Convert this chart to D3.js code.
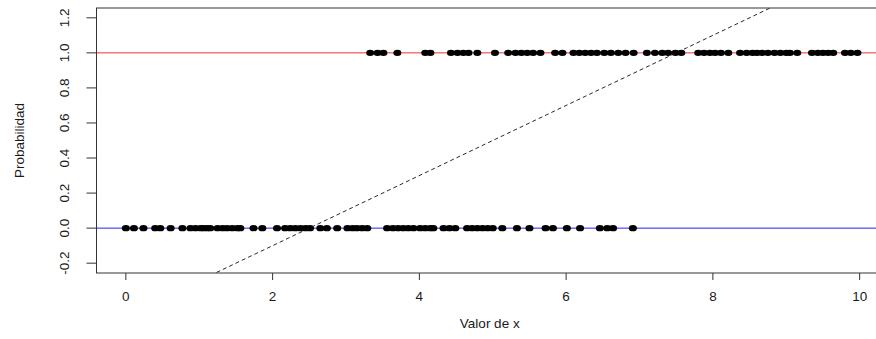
<!DOCTYPE html>
<html>
<head>
<meta charset="utf-8">
<script src="https://cdn.jsdelivr.net/npm/d3@7"></script>
<style>
    body { margin: 0; background: #fff; }
    svg text { font-family: "Liberation Sans", Arial, sans-serif; fill: #1a1a1a; }
</style>
</head>
<body>
<svg id="chart" width="876" height="339"></svg>
<script>
// observations with y = 0
const x0 = [0.0, 0.11, 0.24, 0.40, 0.47, 0.61, 0.77, 0.88, 0.95, 1.02, 1.06, 1.11, 1.15,
    1.25, 1.32, 1.38, 1.45, 1.52, 1.56, 1.74, 1.86, 2.06, 2.17, 2.24, 2.31, 2.38, 2.45, 2.51,
    2.65, 2.74, 2.88, 3.02, 3.09, 3.15, 3.22, 3.29, 3.56, 3.64, 3.71, 3.78, 3.85, 3.92,
    4.01, 4.08, 4.15, 4.19, 4.33, 4.41, 4.49, 4.65, 4.72, 4.79, 4.86, 4.93, 5.0, 5.13,
    5.33, 5.50, 5.72, 5.82, 6.01, 6.19, 6.46, 6.56, 6.64, 6.91];

// observations with y = 1
const x1 = [3.33, 3.43, 3.51, 3.70, 4.08, 4.15, 4.43, 4.52, 4.60, 4.67, 4.79, 5.03,
    5.21, 5.31, 5.39, 5.47, 5.55, 5.65, 5.85, 5.95, 6.10, 6.18, 6.26, 6.34, 6.42, 6.52,
    6.61, 6.71, 6.81, 6.92, 7.10, 7.21, 7.31, 7.39, 7.49, 7.57, 7.80, 7.88, 7.96, 8.03,
    8.11, 8.21, 8.37, 8.46, 8.54, 8.60, 8.67, 8.75, 8.84, 8.92, 9.00, 9.05, 9.15, 9.35,
    9.43, 9.50, 9.57, 9.64, 9.80, 9.88, 9.97];

const xTicks = [0, 2, 4, 6, 8, 10];
const yTicks = [-0.2, 0.0, 0.2, 0.4, 0.6, 0.8, 1.0, 1.2];

// linear probability model fit
const intercept = -0.5;
const slope = 0.2;

const margin = { top: 8, left: 96.5, right: 889, bottom: 273 };

let svg = d3.select('#chart');

let xScale = d3.scaleLinear()
    .domain([-0.4, 10.4])
    .range([margin.left, margin.right]);

let yScale = d3.scaleLinear()
    .domain([-0.256, 1.256])
    .range([margin.bottom, margin.top]);

svg.append('clipPath')
    .attr('id', 'plotClip')
    .append('rect')
    .attr('x', margin.left)
    .attr('y', margin.top)
    .attr('width', margin.right - margin.left)
    .attr('height', margin.bottom - margin.top);

let plot = svg.append('g').attr('clip-path', 'url(#plotClip)');

// reference lines at 0 and 1
plot.append('line')
    .attr('x1', xScale(-0.4)).attr('x2', xScale(10.4))
    .attr('y1', yScale(1)).attr('y2', yScale(1))
    .attr('stroke', '#f03030').attr('stroke-width', 1);

plot.append('line')
    .attr('x1', xScale(-0.4)).attr('x2', xScale(10.4))
    .attr('y1', yScale(0)).attr('y2', yScale(0))
    .attr('stroke', '#2020ff').attr('stroke-width', 1);

// points
plot.selectAll('ellipse.p0')
    .data(x0)
    .enter()
    .append('ellipse')
    .attr('class', 'p0')
    .attr('cx', d => xScale(d))
    .attr('cy', yScale(0))
    .attr('rx', 4)
    .attr('ry', 3.2)
    .attr('fill', '#000');

plot.selectAll('ellipse.p1')
    .data(x1)
    .enter()
    .append('ellipse')
    .attr('class', 'p1')
    .attr('cx', d => xScale(d))
    .attr('cy', yScale(1))
    .attr('rx', 4)
    .attr('ry', 3.2)
    .attr('fill', '#000');

// fitted line
plot.append('line')
    .attr('x1', xScale(-0.4)).attr('y1', yScale(intercept + slope * -0.4))
    .attr('x2', xScale(10.4)).attr('y2', yScale(intercept + slope * 10.4))
    .attr('stroke', '#111')
    .attr('stroke-width', 0.9)
    .attr('stroke-dasharray', '4,3');

// box
svg.append('rect')
    .attr('x', margin.left)
    .attr('y', margin.top)
    .attr('width', margin.right - margin.left)
    .attr('height', margin.bottom - margin.top)
    .attr('fill', 'none')
    .attr('stroke', '#333');

// x axis
let xAxis = svg.append('g');
xAxis.selectAll('line')
    .data(xTicks)
    .enter()
    .append('line')
    .attr('x1', d => xScale(d)).attr('x2', d => xScale(d))
    .attr('y1', margin.bottom).attr('y2', margin.bottom + 7)
    .attr('stroke', '#333');
xAxis.selectAll('text')
    .data(xTicks)
    .enter()
    .append('text')
    .attr('x', d => xScale(d))
    .attr('y', 301)
    .attr('text-anchor', 'middle')
    .attr('font-size', 13.5)
    .text(d => d);

// y axis
let yAxis = svg.append('g');
yAxis.selectAll('line')
    .data(yTicks)
    .enter()
    .append('line')
    .attr('x1', margin.left - 10).attr('x2', margin.left)
    .attr('y1', d => yScale(d)).attr('y2', d => yScale(d))
    .attr('stroke', '#333');
yAxis.selectAll('text')
    .data(yTicks)
    .enter()
    .append('text')
    .attr('transform', d => `translate(69, ${yScale(d)}) rotate(-90)`)
    .attr('text-anchor', 'middle')
    .attr('font-size', 13.5)
    .text(d => d.toFixed(1));

// titles
svg.append('text')
    .attr('x', (margin.left + margin.right) / 2 - 3)
    .attr('y', 328)
    .attr('text-anchor', 'middle')
    .attr('font-size', 13.5)
    .text('Valor de x');

svg.append('text')
    .attr('transform', `translate(24, ${(margin.top + margin.bottom) / 2}) rotate(-90)`)
    .attr('text-anchor', 'middle')
    .attr('font-size', 13.5)
    .text('Probabilidad');
</script>
</body>
</html>
